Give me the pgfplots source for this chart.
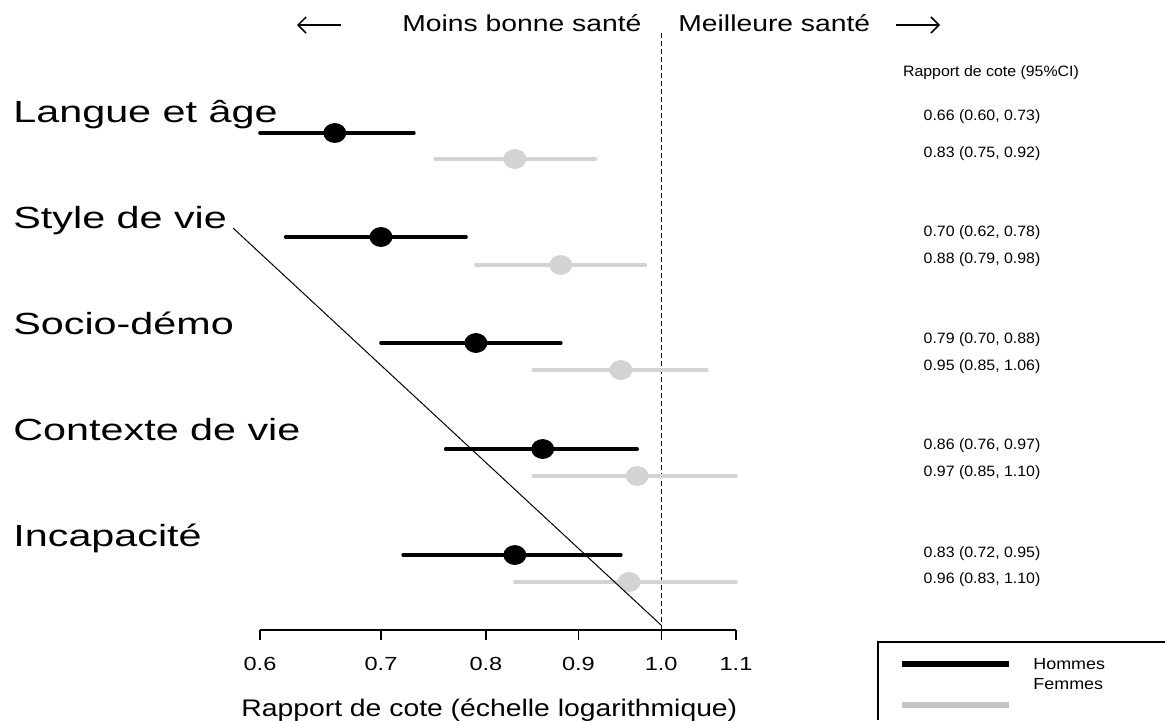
\documentclass[border=0pt]{standalone}
\usepackage{pgfplots}
\pgfplotsset{compat=1.18}
\usetikzlibrary{arrows.meta}
\usepackage{fontspec}
\setmainfont{Liberation Sans}
\usepackage{graphicx}
\definecolor{ltg}{HTML}{D3D3D3}
\definecolor{leggray}{HTML}{C4C4C4}
\newcommand{\sx}[2]{\scalebox{#1}[1]{#2}}
\newcommand{\tl}[1]{\sx{1.24}{#1}}
\begin{document}
\begin{tikzpicture}
\begin{axis}[
 at={(0,0)}, anchor=south west,
 scale only axis, width=238pt, height=315pt,
 xmode=log, xmin=0.6, xmax=1.1, ymin=0, ymax=630,
 axis x line*=bottom, axis y line=none,
 xtick={0.6,0.7,0.8,0.9,1.0,1.1},
 xticklabels={\tl{0.6},\tl{0.7},\tl{0.8},\tl{0.9},\tl{1.0},\tl{1.1}},
 xminorticks=false,
 tick align=outside, major tick length=5pt,
 every tick/.style={black, line width=0.65pt},
 axis line style={line width=0.65pt},
 xticklabel style={font=\fontsize{9.5}{11}\selectfont, anchor=base, yshift=-15pt},
 clip=false,
]
% reference line at 1
\draw[black, line width=0.6pt, dash pattern=on 2.5pt off 1.5pt] (axis cs:1,0) -- (axis cs:1,600);
% Hommes: confidence intervals
\addplot[black, line width=1.8pt, line cap=round] coordinates {(0.60,497) (0.73,497)};
\addplot[black, line width=1.8pt, line cap=round] coordinates {(0.62,393) (0.78,393)};
\addplot[black, line width=1.8pt, line cap=round] coordinates {(0.70,287) (0.88,287)};
\addplot[black, line width=1.8pt, line cap=round] coordinates {(0.76,181) (0.97,181)};
\addplot[black, line width=1.8pt, line cap=round] coordinates {(0.72,75) (0.95,75)};
% Femmes: confidence intervals
\addplot[ltg, line width=1.8pt, line cap=round] coordinates {(0.75,471) (0.92,471)};
\addplot[ltg, line width=1.8pt, line cap=round] coordinates {(0.79,365) (0.98,365)};
\addplot[ltg, line width=1.8pt, line cap=round] coordinates {(0.85,260) (1.06,260)};
\addplot[ltg, line width=1.8pt, line cap=round] coordinates {(0.85,154) (1.10,154)};
\addplot[ltg, line width=1.8pt, line cap=round] coordinates {(0.83,48) (1.10,48)};
% point estimates
\addplot[only marks, mark=*, mark size=4.75pt, mark options={xscale=1.16, fill=black, draw=black}]
 coordinates {(0.66,497) (0.70,393) (0.79,287) (0.86,181) (0.83,75)};
\addplot[only marks, mark=*, mark size=4.75pt, mark options={xscale=1.16, fill=ltg, draw=ltg}]
 coordinates {(0.83,471) (0.88,365) (0.95,260) (0.97,154) (0.96,48)};
\end{axis}
\begin{scope}[x=0.5pt, y=-0.5pt, xshift=-130pt, yshift=315pt]
% diagonal stray line
\draw[black, line width=0.5pt] (233,228) -- (661,625);
% group labels
\foreach \lab/\yy in {{Langue et âge}/122, {Style de vie}/228, {Socio-démo}/334, {Contexte de vie}/440, {Incapacité}/546}
  \node[anchor=base west, inner sep=0pt, font=\fontsize{15.3}{18}\selectfont] at (13,\yy) {\sx{1.35}{\lab}};
% top annotations
\draw[black, line width=0.75pt, {Straight Barb[length=4pt,width=8pt]}-] (297,25) -- (341,25);
\draw[black, line width=0.75pt, -{Straight Barb[length=4pt,width=8pt]}] (896,25) -- (940,25);
\node[anchor=base west, inner sep=0pt, font=\fontsize{11.5}{14}\selectfont] at (402,31) {\sx{1.23}{Moins bonne santé}};
\node[anchor=base west, inner sep=0pt, font=\fontsize{11.5}{14}\selectfont] at (678,31) {\sx{1.23}{Meilleure santé}};
% x label
\node[anchor=base west, inner sep=0pt, font=\fontsize{12}{14}\selectfont] at (241,716) {\sx{1.18}{Rapport de cote (échelle logarithmique)}};
% right column
\node[anchor=base, inner sep=0pt, font=\fontsize{7.5}{9}\selectfont] at (991,76) {\sx{1.06}{Rapport de cote (95\%CI)}};
\foreach \txt/\yy in {{0.66 (0.60, 0.73)}/120, {0.83 (0.75, 0.92)}/157,
  {0.70 (0.62, 0.78)}/236, {0.88 (0.79, 0.98)}/263,
  {0.79 (0.70, 0.88)}/343, {0.95 (0.85, 1.06)}/370,
  {0.86 (0.76, 0.97)}/449, {0.97 (0.85, 1.10)}/476,
  {0.83 (0.72, 0.95)}/557, {0.96 (0.83, 1.10)}/583}
  \node[anchor=base, inner sep=0pt, font=\fontsize{7.5}{9}\selectfont] at (982,\yy) {\sx{1.06}{\txt}};
% legend
\draw[black, line width=0.75pt] (1165,642) -- (878,642) -- (878,720);
\draw[black, line width=2.8pt] (902,664) -- (1009,664);
\draw[leggray, line width=2.8pt] (902,705) -- (1009,705);
\node[anchor=base west, inner sep=0pt, font=\fontsize{8}{10}\selectfont] at (1033,669) {\sx{1.12}{Hommes}};
\node[anchor=base west, inner sep=0pt, font=\fontsize{8}{10}\selectfont] at (1033,689) {\sx{1.12}{Femmes}};
\pgfresetboundingbox
\path (0,0) rectangle (1165,720);
\end{scope}
\end{tikzpicture}
\end{document}
